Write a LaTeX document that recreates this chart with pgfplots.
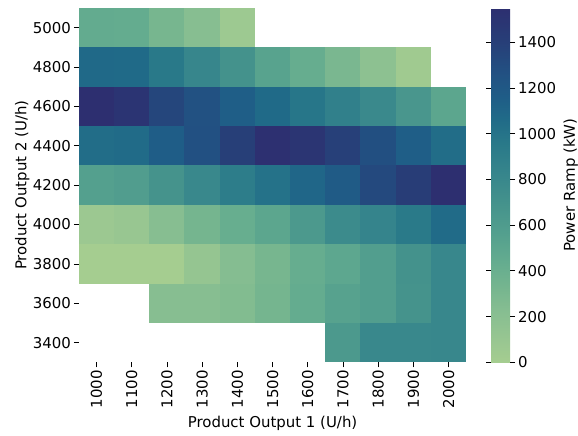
\documentclass[border={8pt 1pt 0pt 6pt}]{standalone}
\usepackage{fontspec}
\setmainfont{DejaVu Sans}
\usepackage{pgfplots}
\pgfplotsset{compat=1.18}
\usepackage{pgfplotstable}
\usetikzlibrary{calc}
\pgfplotsset{colorbar shift/.style={}}
\pgfdeclareplotmark{cell}{%
  \pgfpathrectangle{\pgfpoint{-13.25pt}{-14.8pt}}{\pgfpoint{26.5pt}{29.6pt}}%
  \pgfusepathqfill}
\pgfplotstableread{
xi yi v
0 8 450
1 8 440
2 8 320
3 8 220
4 8 60
0 7 1080
1 7 1070
2 7 960
3 7 820
4 7 700
5 7 530
6 7 430
7 7 300
8 7 180
9 7 40
0 6 1550
1 6 1500
2 6 1350
3 6 1260
4 6 1150
5 6 1070
6 6 980
7 6 880
8 6 790
9 6 660
10 6 500
0 5 1050
1 5 1060
2 5 1160
3 5 1270
4 5 1400
5 5 1540
6 5 1490
7 5 1390
8 5 1280
9 5 1150
10 5 1050
0 4 560
1 4 590
2 4 690
3 4 800
4 4 920
5 4 1010
6 4 1100
7 4 1180
8 4 1320
9 4 1420
10 4 1550
0 3 70
1 3 100
2 3 220
3 3 330
4 3 420
5 3 500
6 3 630
7 3 770
8 3 840
9 3 950
10 3 1060
0 2 0
1 2 0
2 2 0
3 2 120
4 2 230
5 2 320
6 2 430
7 2 490
8 2 580
9 2 700
10 2 810
2 1 220
3 1 220
4 1 250
5 1 330
6 1 440
7 1 540
8 1 580
9 1 690
10 1 810
7 0 630
8 0 800
9 0 800
10 0 810
}\cells
\begin{document}
\begin{tikzpicture}
\begin{axis}[
  scale only axis,
  width=290.25pt, height=265.5pt,
  font=\fontsize{11.2}{13}\selectfont,
  xmin=-0.5, xmax=10.5, ymin=-0.5, ymax=8.5,
  axis line style={draw=none},
  xtick={0,...,10},
  xticklabels={1000,1100,1200,1300,1400,1500,1600,1700,1800,1900,2000},
  ytick={0,...,8},
  yticklabels={3400,3600,3800,4000,4200,4400,4600,4800,5000},
  x tick label style={rotate=90, anchor=east, inner sep=2pt},
  y tick label style={inner sep=2pt},
  tick align=outside,
  major tick length=3.75pt,
  xtick pos=bottom, ytick pos=left,
  tick style={black, line width=0.6pt},
  xlabel={Product Output 1 (U/h)},
  ylabel={Product Output 2 (U/h)},
  ylabel style={yshift=-3pt},
  /pgf/number format/assume math mode=true,
  colormap={crest}{
    rgb255(0cm)=(165,205,144);
    rgb255(1cm)=(152,198,145);
    rgb255(2.2cm)=(135,190,145);
    rgb255(3.3cm)=(117,181,143);
    rgb255(4.4cm)=(100,172,143);
    rgb255(5.6cm)=(84,160,142);
    rgb255(7cm)=(68,146,140);
    rgb255(8.2cm)=(55,134,140);
    rgb255(9.6cm)=(41,121,137);
    rgb255(10.7cm)=(32,106,136);
    rgb255(11.6cm)=(31,93,135);
    rgb255(12.7cm)=(34,80,130);
    rgb255(14cm)=(39,63,120);
    rgb255(15.5cm)=(45,47,112)},
  point meta min=0, point meta max=1550,
  colorbar,
  colorbar style={
    at={($(parent axis.north east)+(18.75pt,0)$)}, anchor=north west,
    width=14.25pt,
    axis line style={draw=none},
    ytick={0,200,...,1400},
    every axis y label/.style={at={(axis description cs:3.79,0.5)}, rotate=90, anchor=north, inner sep=0pt},
    ylabel={Power Ramp (kW)},
    font=\fontsize{11.2}{13}\selectfont,
    tick align=outside,
    major tick length=3.75pt,
    tick style={black, line width=0.6pt},
    /pgf/number format/assume math mode=true,
    yticklabel style={/pgf/number format/1000 sep={}, inner sep=2pt},
  },
]
\addplot[scatter, only marks, mark=cell, point meta=explicit,
  scatter/use mapped color={draw=mapped color, fill=mapped color}]
  table[x=xi, y=yi, meta=v] {\cells};
\end{axis}
\end{tikzpicture}
\end{document}
